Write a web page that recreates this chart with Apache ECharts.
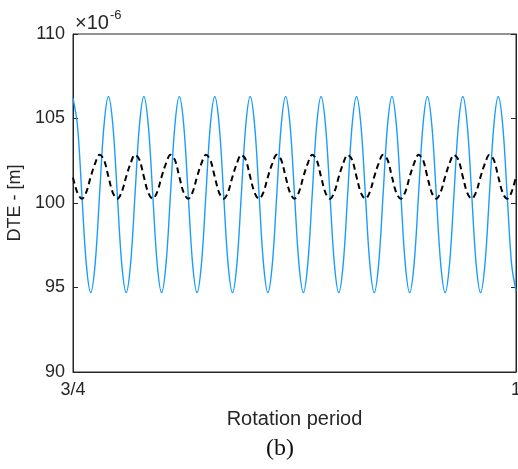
<!DOCTYPE html>
<html>
<head>
<meta charset="utf-8">
<script src="https://cdn.jsdelivr.net/npm/echarts@6/dist/echarts.min.js"></script>
<style>html,body{margin:0;padding:0;background:#fff}#c{width:518px;height:469px}</style>
</head>
<body>
<div id="c"></div>
<script>
const rotation = [0.75,0.7525,0.755,0.7575,0.76,0.7625,0.765,0.7675,0.77,0.7725,0.775,0.7775,0.78,0.7825,0.785,0.7875,0.79,0.7925,0.795,0.7975,0.8,0.8025,0.805,0.8075,0.81,0.8125,0.815,0.8175,0.82,0.8225,0.825,0.8275,0.83,0.8325,0.835,0.8375,0.84,0.8425,0.845,0.8475,0.85,0.8525,0.855,0.8575,0.86,0.8625,0.865,0.8675,0.87,0.8725,0.875,0.8775,0.88,0.8825,0.885,0.8875,0.89,0.8925,0.895,0.8975,0.9,0.9025,0.905,0.9075,0.91,0.9125,0.915,0.9175,0.92,0.9225,0.925,0.9275,0.93,0.9325,0.935,0.9375,0.94,0.9425,0.945,0.9475,0.95,0.9525,0.955,0.9575,0.96,0.9625,0.965,0.9675,0.97,0.9725,0.975,0.9775,0.98,0.9825,0.985,0.9875,0.99,0.9925,0.995,0.9975,1.0];
const dteSolid = [
106.2,104.6,100.5,96.4,94.7,96.4,100.5,104.6,
106.3,104.6,100.5,96.4,94.7,96.4,100.5,104.6,
106.3,104.6,100.5,96.4,94.7,96.4,100.5,104.6,
106.3,104.6,100.5,96.4,94.7,96.4,100.5,104.6,
106.3,104.6,100.5,96.4,94.7,96.4,100.5,104.6,
106.3,104.6,100.5,96.4,94.7,96.4,100.5,104.6,
106.3,104.6,100.5,96.4,94.7,96.4,100.5,104.6,
106.3,104.6,100.5,96.4,94.7,96.4,100.5,104.6,
106.3,104.6,100.5,96.4,94.7,96.4,100.5,104.6,
106.3,104.6,100.5,96.4,94.7,96.4,100.5,104.6,
106.3,104.6,100.5,96.4,94.7,96.4,100.5,104.6,
106.3,104.6,100.5,96.4,94.7,96.4,100.5,104.6,
106.3,104.6,100.5,96.4,94.8];
const dteDashed = [
101.5,100.6,100.25,100.65,101.55,102.35,102.85,102.55,
101.55,100.6,100.25,100.65,101.55,102.35,102.85,102.55,
101.55,100.6,100.25,100.65,101.55,102.35,102.85,102.55,
101.55,100.6,100.25,100.65,101.55,102.35,102.85,102.55,
101.55,100.6,100.25,100.65,101.55,102.35,102.85,102.55,
101.55,100.6,100.25,100.65,101.55,102.35,102.85,102.55,
101.55,100.6,100.25,100.65,101.55,102.35,102.85,102.55,
101.55,100.6,100.25,100.65,101.55,102.35,102.85,102.55,
101.55,100.6,100.25,100.65,101.55,102.35,102.85,102.55,
101.55,100.6,100.25,100.65,101.55,102.35,102.85,102.55,
101.55,100.6,100.25,100.65,101.55,102.35,102.85,102.55,
101.55,100.6,100.25,100.65,101.55,102.35,102.85,102.55,
101.55,100.6,100.25,100.65,101.55];
const xTickLabels = {'0.75':'3/4','1':'1'};
const yTicks = [90,95,100,105,110];

const txt = '#262626';
const font = 'Liberation Sans, Arial, Helvetica, sans-serif';
const chart = echarts.init(document.getElementById('c'), null, {renderer:'canvas'});
const pair = a => rotation.map((x,i)=>[x,a[i]]);
chart.setOption({
  animation:false,
  grid:{left:73,right:2,top:34,bottom:97,show:true,borderColor:txt,borderWidth:1,backgroundColor:'transparent',containLabel:false,outerBoundsMode:'none'},
  xAxis:[{
    type:'value',min:0.75,max:1,interval:0.25,position:'bottom',
    axisLine:{show:true,lineStyle:{color:txt,width:1}},
    axisTick:{show:false},splitLine:{show:false},
    axisLabel:{color:txt,fontSize:18,fontFamily:font,margin:9,formatter:v=>xTickLabels[String(v)]||''},
    name:'Rotation period',nameLocation:'middle',nameGap:37,
    nameTextStyle:{color:txt,fontSize:20,fontFamily:font}
  }],
  yAxis:[{
    type:'value',min:90,max:110,interval:5,position:'left',
    axisLine:{show:true,lineStyle:{color:txt,width:1}},
    axisTick:{show:true,inside:true,length:5,lineStyle:{color:txt}},
    splitLine:{show:false},
    axisLabel:{color:txt,fontSize:18,fontFamily:font,margin:8,formatter:v=>yTicks.includes(v)?String(v):''},
    name:'DTE - [m]',nameLocation:'middle',nameGap:46,
    nameTextStyle:{color:txt,fontSize:18,fontFamily:font}
  },{
    type:'value',min:90,max:110,interval:5,position:'right',
    axisLine:{show:true,lineStyle:{color:txt,width:1}},
    axisTick:{show:true,inside:true,length:5,lineStyle:{color:txt}},
    splitLine:{show:false},axisLabel:{show:false}
  }],
  graphic:[
    {type:'text',left:75,top:13,style:{text:'×10',fill:txt,font:'20px '+font}},
    {type:'text',left:110,top:9,style:{text:'-6',fill:txt,font:'13px '+font}},
    {type:'text',left:266,top:437,style:{text:'(b)',fill:'#111',font:'24px "Liberation Serif", "DejaVu Serif", serif'}}
  ],
  series:[
    {type:'line',data:pair(dteSolid),showSymbol:false,smooth:0.35,clip:true,
     lineStyle:{color:'#1a9cff',width:1.4},z:2},
    {type:'line',data:pair(dteDashed),showSymbol:false,smooth:0.35,clip:true,
     lineStyle:{color:'#000',width:2,type:[6,4]},z:3}
  ]
});
</script>
</body>
</html>
